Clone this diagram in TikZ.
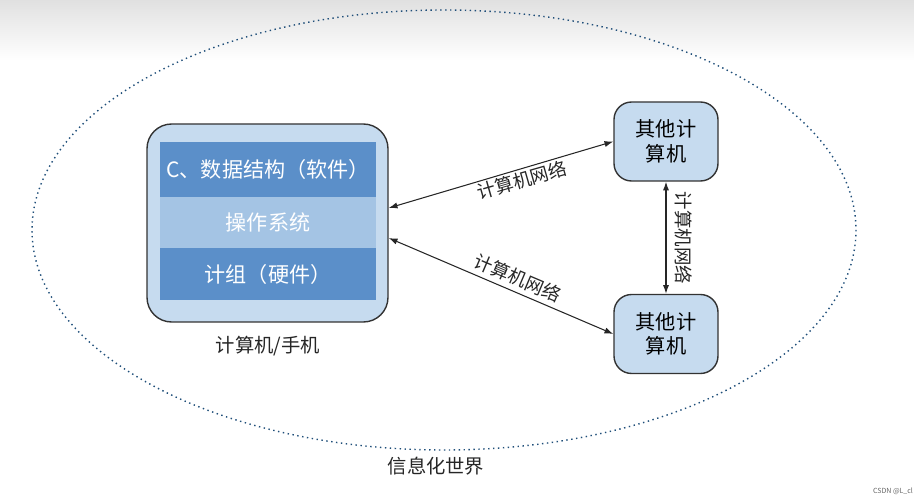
\documentclass[tikz,border=0pt]{standalone}
\usepackage{fontspec}
\setmainfont{Noto Sans CJK SC}
\usetikzlibrary{arrows.meta}
\definecolor{dk}{HTML}{5B8FC9}
\definecolor{lt}{HTML}{A4C4E4}
\definecolor{bx}{HTML}{C6DBEF}
\definecolor{el}{HTML}{1F4E79}
\begin{document}
\begin{tikzpicture}[x=0.02cm,y=-0.02cm,
  layer/.style={draw=none,minimum width=216*0.02cm,text=white,font=\fontsize{12}{14}\selectfont,inner sep=0},
  other/.style={draw=black!80,thick,fill=bx,rounded corners=10pt,minimum width=104*0.02cm,minimum height=79*0.02cm,align=center,font=\fontsize{11.5}{14}\selectfont,inner sep=0},
  conn/.style={{Latex[length=5pt,width=3.5pt]}-{Latex[length=5pt,width=3.5pt]},black!85,semithick},
  lbl/.style={font=\fontsize{10.5}{12}\selectfont,text=black!85}]
\useasboundingbox (0,0) rectangle (914,500);
\shade[top color=black!12,bottom color=white] (0,0) rectangle (914,60);
\draw[el,dotted,thick] (444,230) ellipse [x radius=412,y radius=220];
\node[draw=black!80,thick,fill=bx,rounded corners=14pt,minimum width=241*0.02cm,minimum height=198*0.02cm] (L) at (267.5,223) {};
\node[layer,fill=dk,minimum height=55*0.02cm] (r1) at (268,169.5) {C、数据结构（软件）};
\node[layer,fill=lt,minimum height=51*0.02cm] (r2) at (268,222.5) {操作系统};
\node[layer,fill=dk,minimum height=52*0.02cm] (r3) at (268,274) {计组（硬件）};
\node[lbl,font=\fontsize{11}{13}\selectfont] (cap) at (268,346) {计算机/手机};
\node[other] (T) at (666,141.5) {其他计\\算机};
\node[other] (B) at (666,334) {其他计\\算机};
\draw[conn] ([yshift=15*0.02cm]L.east) -- (T.west);
\draw[conn] ([yshift=-15*0.02cm]L.east) -- (B.west);
\draw[conn] (T.south) -- (B.north);
\node[lbl,rotate=16] (a1) at (522,180) {计算机网络};
\node[lbl,rotate=-23] (a2) at (518,278) {计算机网络};
\node[lbl,rotate=-90] (a3) at (684,238) {计算机网络};
\node[lbl,font=\fontsize{11}{13}\selectfont] (world) at (436,466) {信息化世界};
\node[font=\fontsize{4}{5}\selectfont,text=black!60] (wm) at (893,491) {CSDN @L\_cl};
\end{tikzpicture}
\end{document}
